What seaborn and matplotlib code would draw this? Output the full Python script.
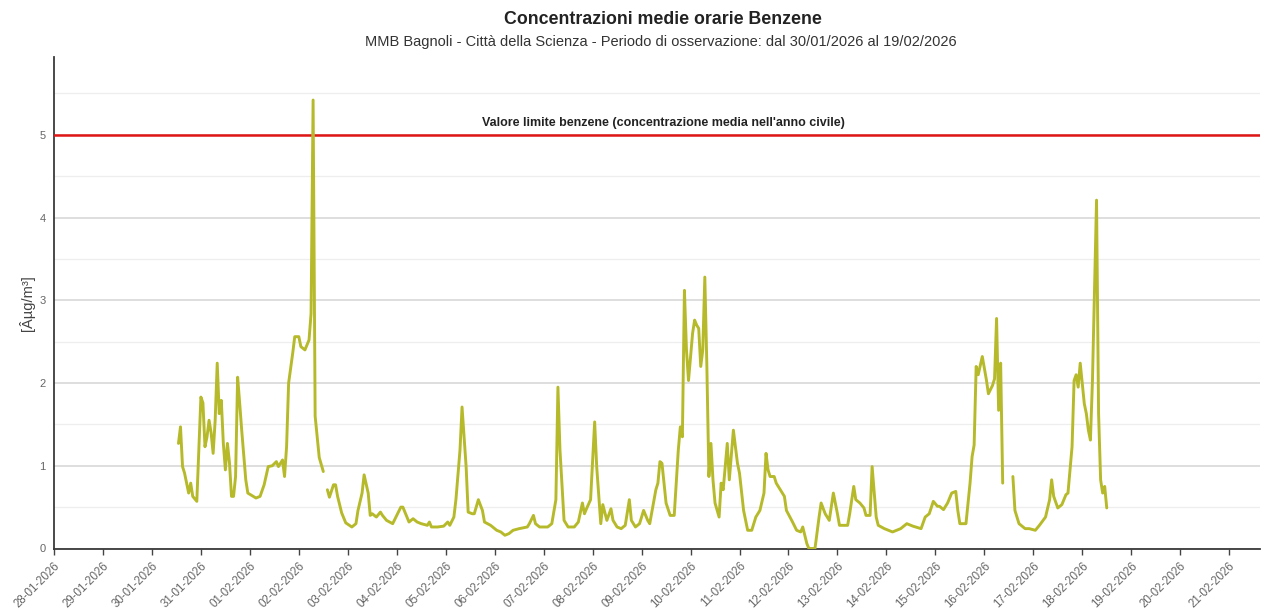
import matplotlib
matplotlib.use("Agg")
import matplotlib.pyplot as plt
import numpy as np
import pandas as pd
import seaborn as sns

# Hourly benzene means at MMB Bagnoli - Città della Scienza.
# Hours are counted from 30/01/2026 00:00; None marks hours with no data.
ore = [13, 14, 15, 16, 18, 19, 20, 22, 24, 25, 26, 27, 28, 29, 30, 31, 32, 33, 34, 35,
       36, 37, 38, 39, 40, 41, 42, 43, 44, 46, 47, 51, 53, 55, 57, 59, 61, 62, 64, 65,
       66, 67, 69, 70, 72, 73, 75, 77, 78, 79, 80, 82, 84, 85, 86, 87, 89, 90, 91, 93,
       95, 98, 100, 101, 103, 104, 106, 107, 108, 110, 112, 113, 115, 118, 120, 122, 123, 125, 126, 128,
       130, 132, 135, 136, 137, 140, 143, 145, 146, 148, 149, 151, 152, 154, 155, 157, 158, 160, 162, 163,
       166, 169, 171, 173, 175, 177, 180, 184, 185, 187, 188, 190, 194, 196, 198, 199, 200, 202, 204, 207,
       209, 211, 212, 213, 215, 217, 218, 220, 221, 223, 225, 226, 228, 230, 232, 234, 235, 237, 239, 241,
       243, 244, 247, 248, 249, 250, 252, 254, 256, 258, 259, 260, 261, 262, 263, 265, 266, 267, 268, 269,
       270, 271, 272, 273, 274, 275, 276, 278, 279, 280, 282, 283, 285, 287, 288, 290, 292, 294, 296, 298,
       300, 301, 302, 303, 305, 306, 308, 310, 311, 314, 316, 318, 319, 321, 322, 325, 327, 328, 330, 332,
       334, 336, 337, 341, 342, 344, 345, 347, 349, 350, 352, 353, 355, 356, 359, 361, 363, 367, 370, 373,
       377, 379, 381, 383, 385, 386, 388, 390, 392, 394, 395, 396, 399, 401, 402, 403, 404, 405, 407, 409,
       410, 412, 413, 414, 415, 416, 417, 419, 422, 423, 425, 428, 430, 433, 435, 438, 440, 441, 442, 444,
       446, 448, 449, 451, 452, 453, 454, 455, 457, 458, 459, 460, 461, 463, 464, 465, 466, 467, 468]

benzene = [1.27, 1.47, 0.99, 0.91, 0.67, 0.79, 0.63, 0.57, 1.83, 1.76, 1.23, 1.35, 1.55, 1.40, 1.15, 1.55, 2.24, 1.63, 1.79, 1.27,
           0.95, 1.27, 1.04, 0.63, 0.63, 0.87, 2.07, 1.76, 1.43, 0.83, 0.67, 0.61, 0.63, 0.77, 0.99, 1.00, 1.05, 0.99, 1.07, 0.87,
           1.23, 2.00, 2.36, 2.56, 2.56, 2.44, 2.40, 2.52, 2.84, 5.42, 1.60, 1.10, 0.93, None, 0.71, 0.62, 0.77, 0.77, 0.63, 0.43,
           0.31, 0.26, 0.30, 0.46, 0.67, 0.89, 0.67, 0.40, 0.42, 0.38, 0.44, 0.40, 0.34, 0.30, 0.40, 0.50, 0.50, 0.38, 0.32, 0.36,
           0.32, 0.30, 0.28, 0.32, 0.26, 0.26, 0.27, 0.32, 0.28, 0.38, 0.59, 1.19, 1.71, 0.99, 0.44, 0.42, 0.42, 0.59, 0.46, 0.32,
           0.28, 0.22, 0.20, 0.16, 0.18, 0.22, 0.24, 0.26, 0.30, 0.40, 0.30, 0.26, 0.26, 0.30, 0.59, 1.95, 1.19, 0.34, 0.26, 0.26,
           0.32, 0.55, 0.42, 0.48, 0.59, 1.53, 0.99, 0.30, 0.53, 0.34, 0.48, 0.34, 0.26, 0.24, 0.28, 0.59, 0.34, 0.26, 0.30, 0.46,
           0.34, 0.30, 0.71, 0.79, 1.05, 1.03, 0.55, 0.40, 0.40, 1.19, 1.47, 1.35, 3.12, 2.40, 2.03, 2.60, 2.76, 2.70, 2.66, 2.20,
           2.40, 3.28, 2.20, 0.87, 1.27, 0.83, 0.55, 0.38, 0.79, 0.71, 1.27, 0.83, 1.43, 1.03, 0.91, 0.46, 0.22, 0.22, 0.38, 0.46,
           0.67, 1.15, 0.95, 0.87, 0.87, 0.79, 0.71, 0.63, 0.46, 0.32, 0.22, 0.20, 0.26, 0.06, 0.00, 0.00, 0.38, 0.55, 0.42, 0.34,
           0.67, 0.42, 0.28, 0.28, 0.42, 0.75, 0.59, 0.55, 0.49, 0.40, 0.40, 0.99, 0.38, 0.28, 0.24, 0.22, 0.20, 0.24, 0.30, 0.27,
           0.24, 0.38, 0.42, 0.57, 0.51, 0.51, 0.47, 0.55, 0.67, 0.69, 0.46, 0.30, 0.30, 0.79, 1.11, 1.25, 2.20, 2.10, 2.32, 2.04,
           1.87, 1.97, 2.05, 2.78, 1.67, 2.24, 0.79, None, 0.87, 0.46, 0.30, 0.24, 0.24, 0.22, 0.28, 0.38, 0.59, 0.83, 0.63, 0.49,
           0.53, 0.65, 0.67, 1.23, 2.03, 2.10, 1.95, 2.24, 1.75, 1.63, 1.43, 1.31, 2.03, 4.21, 1.63, 0.83, 0.67, 0.75, 0.49]

giorni = ["28-01-2026", "29-01-2026", "30-01-2026", "31-01-2026", "01-02-2026",
          "02-02-2026", "03-02-2026", "04-02-2026", "05-02-2026", "06-02-2026",
          "07-02-2026", "08-02-2026", "09-02-2026", "10-02-2026", "11-02-2026",
          "12-02-2026", "13-02-2026", "14-02-2026", "15-02-2026", "16-02-2026",
          "17-02-2026", "18-02-2026", "19-02-2026", "20-02-2026", "21-02-2026"]

valore_limite = 5.0
etichetta_limite = "Valore limite benzene (concentrazione media nell'anno civile)"
titolo = "Concentrazioni medie orarie Benzene"
sottotitolo = ("MMB Bagnoli - Città della Scienza - Periodo di osservazione: "
               "dal 30/01/2026 al 19/02/2026")
unita = "[Âµg/m³]"

sns.set_theme(style="white")
plt.rcParams["font.family"] = ["Liberation Sans", "DejaVu Sans"]

inizio = pd.Timestamp("2026-01-30 00:00")
df = pd.DataFrame({"ora": ore, "benzene": [np.nan if v is None else v for v in benzene]})
df["tempo"] = inizio + pd.to_timedelta(df["ora"], unit="h")
df["tratto"] = df["benzene"].isna().cumsum()
df = df.dropna(subset=["benzene"])

fig = plt.figure(figsize=(12.72, 6.15), dpi=100)
ax = fig.add_axes([54 / 1272, 1 - 548.5 / 615, (1260 - 54) / 1272, (548.5 - 57) / 615])

sns.lineplot(data=df, x="tempo", y="benzene", units="tratto", estimator=None,
             color="#b6ba2a", lw=2.1, ax=ax, zorder=4)

# limit value line with its caption
ax.axhline(valore_limite, color="#e01616", lw=1.8, zorder=3)
ax.annotate(etichetta_limite, xy=(0.505, valore_limite),
            xycoords=ax.get_yaxis_transform(), xytext=(0, 4), textcoords="offset points",
            ha="center", va="bottom", fontsize=9, fontweight="bold", color="#222222")

# axes ranges and ticks
t0 = pd.Timestamp("2026-01-28 00:00")
ax.set_xlim(t0, t0 + pd.Timedelta(days=24.63))
ax.set_ylim(0, 5.94)

date_tick = pd.to_datetime(giorni, format="%d-%m-%Y")
ax.set_xticks(date_tick)
ax.set_xticklabels(giorni, rotation=45, ha="right", rotation_mode="anchor",
                   fontsize=8.3, color="#666666")
ax.set_yticks(np.arange(0, 6, 1))
ax.set_yticklabels([str(v) for v in range(6)], fontsize=8, color="#666666")
ax.set_yticks(np.arange(0.5, 6, 1), minor=True)

ax.yaxis.grid(True, which="major", color="#d8d8d8", lw=1.2)
ax.yaxis.grid(True, which="minor", color="#eeeeee", lw=0.9)
ax.xaxis.grid(False)
ax.set_axisbelow(True)

ax.tick_params(axis="x", which="major", bottom=True, length=4, width=1,
               color="#444444", direction="out", pad=4)
ax.tick_params(axis="y", which="both", left=False, length=0, pad=6)

for s in ("top", "right"):
    ax.spines[s].set_visible(False)
for s in ("left", "bottom"):
    ax.spines[s].set_color("#3a3a3a")
    ax.spines[s].set_linewidth(1.3)

ax.set_xlabel("")
ax.set_ylabel(unita, fontsize=10.5, color="#444444", labelpad=3)

fig.text(663 / 1272, 1 - 20 / 615, titolo, ha="center", va="center",
         fontsize=12.8, fontweight="bold", color="#222222")
fig.text(661 / 1272, 1 - 42 / 615, sottotitolo, ha="center", va="center",
         fontsize=10.5, color="#333333")

fig.savefig("out.png", dpi=100, facecolor="white")
